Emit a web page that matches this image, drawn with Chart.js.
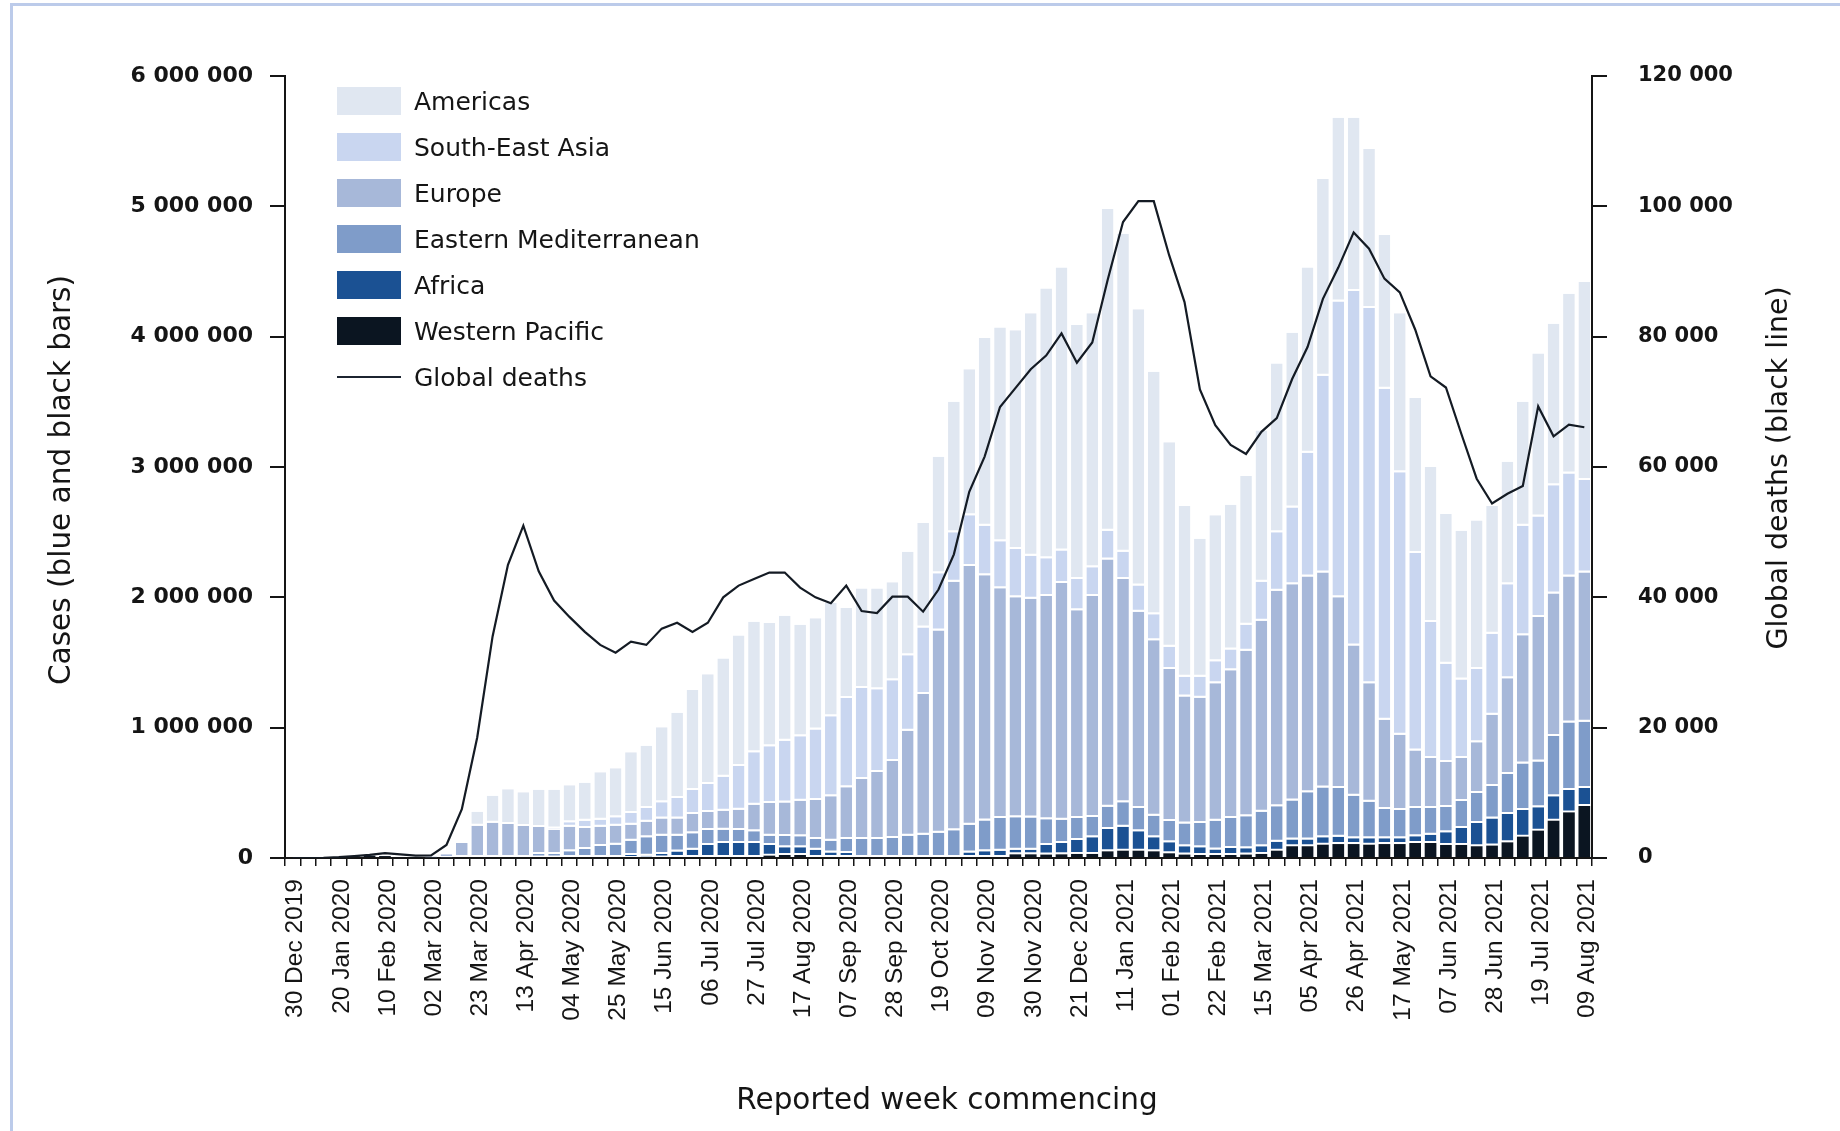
<!DOCTYPE html>
<html>
<head>
<meta charset="utf-8">
<title>Weekly cases by WHO region and global deaths</title>
<script src="https://cdn.jsdelivr.net/npm/chart.js@4.4.1/dist/chart.umd.min.js"></script>
<style>
  html, body { margin: 0; padding: 0; background: #fff; }
  body { width: 1840px; height: 1131px; overflow: hidden; position: relative; font-family: "DejaVu Sans", sans-serif; }
  .frame { position: absolute; left: 10px; top: 3px; right: -5px; bottom: -5px; border-left: 3px solid #bccbea; border-top: 3px solid #bccbea; }
  #casesChart { position: absolute; left: 0; top: 0; }
  .legend { position: absolute; left: 337px; top: 78px; }
  .legend-row { display: flex; align-items: center; height: 46px; }
  .swatch { width: 64px; height: 28px; margin-right: 13px; }
  .swatch.line { height: 2px; background: #1c2430 !important; }
  .legend-label { font-size: 25px; color: #151515; white-space: nowrap; }
</style>
</head>
<body>
<div class="frame"></div>
<canvas id="casesChart" width="1840" height="1131"></canvas>
<div class="legend" id="legend"></div>

<script>
// Week commencing (categories)
const weeks = [
  '30 Dec 2019', '06 Jan 2020', '13 Jan 2020', '20 Jan 2020', '27 Jan 2020', '03 Feb 2020', '10 Feb 2020',
  '17 Feb 2020', '24 Feb 2020', '02 Mar 2020', '09 Mar 2020', '16 Mar 2020', '23 Mar 2020', '30 Mar 2020',
  '06 Apr 2020', '13 Apr 2020', '20 Apr 2020', '27 Apr 2020', '04 May 2020', '11 May 2020', '18 May 2020',
  '25 May 2020', '01 Jun 2020', '08 Jun 2020', '15 Jun 2020', '22 Jun 2020', '29 Jun 2020', '06 Jul 2020',
  '13 Jul 2020', '20 Jul 2020', '27 Jul 2020', '03 Aug 2020', '10 Aug 2020', '17 Aug 2020', '24 Aug 2020',
  '31 Aug 2020', '07 Sep 2020', '14 Sep 2020', '21 Sep 2020', '28 Sep 2020', '05 Oct 2020', '12 Oct 2020',
  '19 Oct 2020', '26 Oct 2020', '02 Nov 2020', '09 Nov 2020', '16 Nov 2020', '23 Nov 2020', '30 Nov 2020',
  '07 Dec 2020', '14 Dec 2020', '21 Dec 2020', '28 Dec 2020', '04 Jan 2021', '11 Jan 2021', '18 Jan 2021',
  '25 Jan 2021', '01 Feb 2021', '08 Feb 2021', '15 Feb 2021', '22 Feb 2021', '01 Mar 2021', '08 Mar 2021',
  '15 Mar 2021', '22 Mar 2021', '29 Mar 2021', '05 Apr 2021', '12 Apr 2021', '19 Apr 2021', '26 Apr 2021',
  '03 May 2021', '10 May 2021', '17 May 2021', '24 May 2021', '31 May 2021', '07 Jun 2021', '14 Jun 2021',
  '21 Jun 2021', '28 Jun 2021', '05 Jul 2021', '12 Jul 2021', '19 Jul 2021', '26 Jul 2021', '02 Aug 2021',
  '09 Aug 2021'
];

// Weekly cases per region (bottom of the stack first)
const westernPacific = [
  0, 0, 0, 3000, 12000, 18000, 15000, 6000, 4000, 3000, 3000, 0, 0, 0, 0, 0, 0, 0, 0, 0, 0,
  0, 0, 0, 0, 0, 0, 0, 0, 0, 0, 18000, 23000, 23000, 0, 0, 0, 0, 0, 0, 0, 0,
  0, 0, 0, 0, 0, 28000, 28000, 26000, 28000, 31000, 31000, 51000, 56000, 56000, 51000, 36000, 26000, 23000, 23000, 23000,
  26000, 31000, 56000, 90000, 90000, 102000, 107000, 107000, 102000, 107000, 107000, 115000, 115000, 100000, 100000, 90000, 95000, 120000, 164000, 210000,
  286000, 350000, 399000
];
const africa = [
  0, 0, 0, 0, 0, 0, 0, 0, 0, 0, 0, 0, 0, 0, 0, 0, 0, 0, 0, 0, 0,
  0, 23000, 18000, 31000, 49000, 64000, 100000, 115000, 115000, 115000, 82000, 59000, 59000, 64000, 43000, 38000, 0, 0, 0, 0, 0,
  0, 0, 43000, 51000, 56000, 36000, 36000, 74000, 87000, 107000, 128000, 171000, 184000, 149000, 108000, 84000, 64000, 59000, 43000, 54000,
  48000, 59000, 69000, 51000, 51000, 57000, 57000, 44000, 49000, 44000, 44000, 51000, 64000, 97000, 130000, 179000, 209000, 218000, 204000, 179000,
  187000, 172000, 138000
];
const easternMediterranean = [
  0, 0, 0, 0, 0, 0, 0, 0, 0, 0, 0, 0, 0, 0, 0, 0, 31000, 31000, 51000, 70000, 92000,
  102000, 110000, 141000, 140000, 122000, 125000, 115000, 102000, 100000, 90000, 71000, 87000, 84000, 82000, 90000, 108000, 146000, 146000, 153000, 171000, 179000,
  194000, 212000, 213000, 237000, 250000, 249000, 246000, 198000, 178000, 168000, 156000, 172000, 188000, 179000, 166000, 163000, 174000, 186000, 220000, 229000,
  246000, 265000, 272000, 301000, 364000, 381000, 374000, 326000, 281000, 225000, 217000, 217000, 204000, 194000, 208000, 229000, 248000, 306000, 357000, 352000,
  463000, 518000, 508000
];
const europe = [
  0, 0, 0, 0, 0, 0, 0, 0, 0, 8000, 25000, 115000, 248000, 271000, 261000, 246000, 207000, 186000, 189000, 160000, 148000,
  146000, 123000, 120000, 133000, 133000, 149000, 138000, 146000, 156000, 204000, 251000, 256000, 274000, 299000, 340000, 396000, 460000, 514000, 592000, 806000, 1079000,
  1551000, 1908000, 1984000, 1882000, 1764000, 1687000, 1680000, 1712000, 1817000, 1594000, 1695000, 1896000, 1712000, 1506000, 1345000, 1167000, 976000, 962000, 1054000, 1134000,
  1270000, 1465000, 1653000, 1658000, 1655000, 1650000, 1462000, 1153000, 908000, 684000, 578000, 441000, 384000, 345000, 329000, 391000, 548000, 736000, 985000, 1109000,
  1094000, 1120000, 1145000
];
const southEastAsia = [
  0, 0, 0, 0, 0, 0, 0, 0, 0, 0, 0, 0, 0, 0, 0, 0, 0, 10000, 34000, 56000, 54000,
  64000, 89000, 105000, 123000, 156000, 184000, 215000, 261000, 335000, 402000, 435000, 475000, 494000, 540000, 614000, 686000, 698000, 635000, 619000, 578000, 510000,
  440000, 380000, 390000, 380000, 360000, 370000, 330000, 290000, 250000, 240000, 220000, 220000, 210000, 200000, 200000, 170000, 150000, 160000, 170000, 160000,
  200000, 300000, 450000, 590000, 950000, 1510000, 2270000, 2720000, 2880000, 2540000, 2014000, 1516000, 1043000, 754000, 603000, 561000, 620000, 720000, 840000, 770000,
  830000, 790000, 710000
];
const americas = [
  0, 0, 0, 0, 0, 0, 0, 0, 0, 0, 2000, 0, 107000, 207000, 266000, 258000, 286000, 297000, 284000, 292000, 363000,
  376000, 466000, 478000, 576000, 654000, 767000, 842000, 907000, 1001000, 1002000, 947000, 959000, 855000, 855000, 869000, 691000, 764000, 773000, 752000, 795000, 803000,
  893000, 1000000, 1120000, 1440000, 1640000, 1680000, 1860000, 2070000, 2170000, 1950000, 1950000, 2470000, 2440000, 2120000, 1860000, 1570000, 1310000, 1060000, 1120000, 1110000,
  1140000, 1160000, 1295000, 1340000, 1420000, 1510000, 1410000, 1330000, 1220000, 1180000, 1220000, 1190000, 1190000, 1150000, 1140000, 1140000, 980000, 940000, 950000, 1250000,
  1240000, 1380000, 1520000
];

// Weekly global deaths (right axis)
const globalDeaths = [
  0, 0, 10, 120, 300, 480, 760, 560, 350, 400, 2000, 7500, 18500, 34000, 45000, 51000, 44000, 39500, 37000, 34700, 32700,
  31500, 33200, 32700, 35200, 36100, 34700, 36100, 40000, 41800, 42800, 43800, 43800, 41500, 40000, 39100, 41800, 37900, 37600, 40100, 40100, 37800,
  41200, 46600, 56200, 61600, 69200, 72100, 75000, 77100, 80500, 76000, 79100, 88700, 97600, 100800, 100800, 92500, 85300, 71900, 66400, 63400,
  62000, 65400, 67500, 73500, 78400, 85800, 90600, 96000, 93500, 88900, 86800, 81100, 73900, 72200, 65100, 58200, 54400, 55900, 57100, 69300,
  64700, 66500, 66100
];

const regions = ['Western Pacific', 'Africa', 'Eastern Mediterranean', 'Europe', 'South-East Asia', 'Americas'];
const regionCases = [westernPacific, africa, easternMediterranean, europe, southEastAsia, americas];

// Tick labels
const caseTicks = ['0', '1 000 000', '2 000 000', '3 000 000', '4 000 000', '5 000 000', '6 000 000'];
const deathTicks = ['0', '20 000', '40 000', '60 000', '80 000', '100 000', '120 000'];

const regionColors = {
  'Western Pacific': '#0b1521',
  'Africa': '#1b5193',
  'Eastern Mediterranean': '#7f9cc9',
  'Europe': '#a7b8d9',
  'South-East Asia': '#c9d6f0',
  'Americas': '#e0e7f1'
};
const ink = '#151515';

// axis titles drawn by hand so the right one reads bottom-to-top like the left one
const axisTitles = {
  id: 'axisTitles',
  afterDraw(chart) {
    const c = chart.ctx;
    const area = chart.chartArea;
    c.save();
    c.fillStyle = ink;
    c.textAlign = 'center';
    c.textBaseline = 'middle';
    const titles = [
      ['Cases (blue and black bars)', 62, area.top + 404, '29.5px'],
      ['Global deaths (black line)', 1780, area.top + 392, '28.4px']
    ];
    titles.forEach(([text, x, y, size]) => {
      c.font = size + ' "DejaVu Sans"';
      c.save();
      c.translate(x, y);
      c.rotate(-Math.PI / 2);
      c.fillText(text, 0, 0);
      c.restore();
    });
    c.font = '29.5px "DejaVu Sans"';
    c.fillText('Reported week commencing', 947, 1101);
    c.restore();
  }
};

document.addEventListener('DOMContentLoaded', () => {
  renderChart();
  renderLegend();
});

function renderChart() {
  const ctx = document.getElementById('casesChart');
  Chart.defaults.font.family = '"DejaVu Sans", sans-serif';
  Chart.defaults.color = ink;

  const barSets = regions.map((name, i) => ({
    label: name,
    data: regionCases[i],
    backgroundColor: regionColors[name],
    borderColor: '#ffffff',
    borderWidth: { top: 0, right: 0, left: 0, bottom: i === 0 ? 0 : 2 },
    borderSkipped: false,
    barPercentage: 0.76,
    categoryPercentage: 1,
    yAxisID: 'y',
    order: 1
  }));

  new Chart(ctx, {
    type: 'bar',
    data: {
      labels: weeks,
      datasets: [
        {
          type: 'line',
          label: 'Global deaths',
          data: globalDeaths,
          yAxisID: 'deaths',
          borderColor: '#141b24',
          borderWidth: 2.2,
          pointRadius: 0,
          tension: 0,
          order: 0
        },
        ...barSets
      ]
    },
    options: {
      responsive: false,
      animation: false,
      layout: { padding: { top: 76, left: 0, right: 0, bottom: 0 } },
      plugins: {
        legend: { display: false }, // HTML legend instead
        tooltip: { enabled: false }
      },
      scales: {
        x: {
          stacked: true,
          offset: true,
          grid: { offset: true, drawOnChartArea: false, tickLength: 8, color: ink, lineWidth: 1.5 },
          border: { display: true, color: ink, width: 2 },
          ticks: {
            autoSkip: false,
            minRotation: 90,
            maxRotation: 90,
            padding: 13,
            labelOffset: 3,
            font: { family: '"Liberation Sans", Arial, sans-serif', size: 24.5 },
            color: ink,
            callback: (v, i) => (i % 3 === 0 ? weeks[i] : '')
          },
          afterFit: (scale) => { scale.height = 273; }
        },
        y: {
          stacked: true,
          position: 'left',
          min: 0,
          max: 6000000,
          grid: { drawOnChartArea: false, tickLength: 15, color: ink, lineWidth: 2 },
          border: { display: true, color: ink, width: 2 },
          ticks: {
            stepSize: 1000000,
            padding: 17,
            font: { size: 22, weight: 'bold' },
            color: ink,
            callback: (v, i) => caseTicks[i]
          },
          afterFit: (scale) => { scale.width = 285; }
        },
        deaths: {
          position: 'right',
          min: 0,
          max: 120000,
          grid: { drawOnChartArea: false, tickLength: 15, color: ink, lineWidth: 2 },
          border: { display: true, color: ink, width: 2 },
          ticks: {
            stepSize: 20000,
            padding: 31,
            font: { size: 21, weight: 'bold' },
            color: ink,
            callback: (v, i) => deathTicks[i]
          },
          afterFit: (scale) => { scale.width = 248; }
        }
      }
    },
    plugins: [axisTitles]
  });
}

function renderLegend() {
  const box = document.getElementById('legend');
  const rows = regions.slice().reverse().map(name => ({ name, color: regionColors[name], line: false }));
  rows.push({ name: 'Global deaths', color: '#1c2430', line: true });
  rows.forEach(r => {
    const row = document.createElement('div');
    row.className = 'legend-row';
    const sw = document.createElement('div');
    sw.className = r.line ? 'swatch line' : 'swatch';
    sw.style.background = r.color;
    const label = document.createElement('span');
    label.className = 'legend-label';
    label.textContent = r.name;
    row.appendChild(sw);
    row.appendChild(label);
    box.appendChild(row);
  });
}
</script>
</body>
</html>
